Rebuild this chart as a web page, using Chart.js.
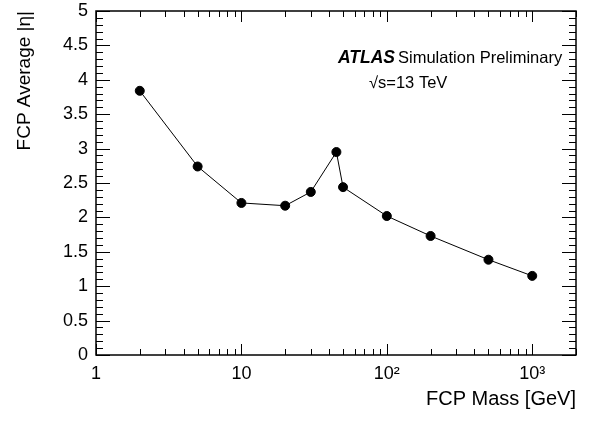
<!DOCTYPE html>
<html>
<head>
<meta charset="utf-8">
<script src="https://cdn.jsdelivr.net/npm/chart.js@4.4.1/dist/chart.umd.min.js"></script>
<style>
  html, body { margin: 0; padding: 0; background: #fff; }
  #wrap { width: 589px; height: 421px; }
</style>
</head>
<body>
<div id="wrap"><canvas id="fcpChart" width="589" height="421"></canvas></div>
<script>
// FCP mass points [GeV] and average |eta|
const masses = [2, 5, 10, 20, 30, 45, 50, 100, 200, 500, 1000];
const avgEta = [3.84, 2.74, 2.21, 2.17, 2.37, 2.95, 2.44, 2.02, 1.73, 1.385, 1.15];
const xTickValues = [1, 10, 100, 1000];
const xTickLabels = ['1', '10', '10²', '10³'];

const FONT = "'Liberation Sans', Arial, sans-serif";

// ROOT-style frame with inward ticks on all four sides
const frameTicks = {
    id: 'frameTicks',
    afterDatasetsDraw(chart) {
        const { ctx, chartArea: a, scales } = chart;
        const xs = scales.x, ys = scales.y;
        ctx.save();
        ctx.strokeStyle = '#000';
        ctx.lineWidth = 1;
        ctx.beginPath();
        // y ticks: major each 0.5, minor each 0.1
        for (let i = 0; i <= 50; i++) {
            const py = Math.round(ys.getPixelForValue(i / 10)) + 0.5;
            const len = i % 5 === 0 ? 14 : 7;
            ctx.moveTo(a.left, py); ctx.lineTo(a.left + len, py);
            ctx.moveTo(a.right, py); ctx.lineTo(a.right - len, py);
        }
        // x ticks: decades major, 2..9 minor
        for (let d = 1; d <= 1000; d *= 10) {
            for (let m = 1; m <= 9; m++) {
                const v = d * m;
                if (v > 2000) break;
                const px = Math.round(xs.getPixelForValue(v)) + 0.5;
                const len = m === 1 ? 11 : 6;
                ctx.moveTo(px, a.bottom); ctx.lineTo(px, a.bottom - len);
                ctx.moveTo(px, a.top); ctx.lineTo(px, a.top + len);
            }
        }
        ctx.stroke();
        ctx.lineWidth = 1.5;
        ctx.strokeRect(a.left, a.top, a.right - a.left, a.bottom - a.top);

        // ATLAS label
        ctx.fillStyle = '#000';
        ctx.textBaseline = 'alphabetic';
        ctx.textAlign = 'left';
        ctx.font = `italic bold 17.5px ${FONT}`;
        ctx.fillText('ATLAS', 338, 63);
        const w = ctx.measureText('ATLAS').width;
        ctx.font = `16.5px ${FONT}`;
        ctx.fillText('Simulation Preliminary', 338 + w + 3, 63);
        ctx.fillText('\u221As=13 TeV', 369, 88);
        ctx.restore();
    }
};

new Chart(document.getElementById('fcpChart'), {
    type: 'line',
    data: {
        datasets: [{
            data: masses.map((m, i) => ({ x: m, y: avgEta[i] })),
            borderColor: '#000',
            backgroundColor: '#000',
            borderWidth: 1,
            pointRadius: 4.5,
            pointHoverRadius: 4.5,
            pointBackgroundColor: '#000',
            tension: 0
        }]
    },
    options: {
        responsive: false,
        animation: false,
        layout: { padding: { top: 11, right: 13, left: 0, bottom: 0 } },
        plugins: { legend: { display: false }, tooltip: { enabled: false } },
        scales: {
            x: {
                type: 'logarithmic',
                min: 1,
                max: 2000,
                afterBuildTicks: s => { s.ticks = xTickValues.map(v => ({ value: v })); },
                afterFit: s => { s.height = 66; s.paddingLeft = 0; s.paddingRight = 0; },
                grid: { display: false, drawTicks: false },
                border: { display: false },
                ticks: {
                    color: '#000',
                    font: { family: FONT, size: 18 },
                    padding: 8,
                    maxRotation: 0,
                    autoSkip: false,
                    callback: (v) => {
                        const i = xTickValues.indexOf(v);
                        return i >= 0 ? xTickLabels[i] : '';
                    }
                },
                title: {
                    display: true,
                    text: 'FCP Mass [GeV]',
                    align: 'end',
                    color: '#000',
                    font: { family: FONT, size: 20 },
                    padding: { top: 0, bottom: 10 }
                }
            },
            y: {
                min: 0,
                max: 5,
                afterFit: s => { s.width = 96; s.paddingTop = 0; s.paddingBottom = 0; },
                grid: { display: false, drawTicks: false },
                border: { display: false },
                ticks: {
                    stepSize: 0.5,
                    color: '#000',
                    font: { family: FONT, size: 18 },
                    padding: 8,
                    callback: v => String(v)
                },
                title: {
                    display: true,
                    text: 'FCP Average |\u03B7|',
                    align: 'end',
                    color: '#000',
                    font: { family: FONT, size: 19 },
                    padding: { top: 13, bottom: 0 }
                }
            }
        }
    },
    plugins: [frameTicks]
});
</script>
</body>
</html>
